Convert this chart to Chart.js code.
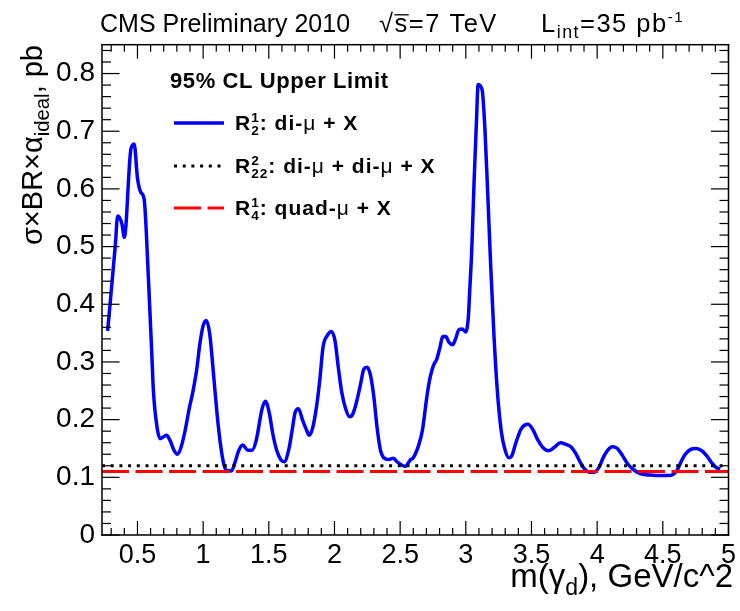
<!DOCTYPE html>
<html>
<head>
<meta charset="utf-8">
<script src="https://cdn.jsdelivr.net/npm/chart.js@4.4.1/dist/chart.umd.min.js"></script>
<style>
  html, body { margin: 0; padding: 0; background: #fff; }
</style>
</head>
<body>
<canvas id="chart" width="740" height="611"></canvas>
<script>
// dark photon mass grid (GeV/c^2) and 95% CL upper limits (pb)
const massValues = [
  0.273, 0.332, 0.349, 0.382, 0.40, 0.45, 0.475, 0.50, 0.526, 0.551,
  0.583, 0.609, 0.621, 0.651, 0.672, 0.722, 0.748, 0.778, 0.803, 0.829,
  0.861, 0.894, 0.919, 0.95, 0.975, 1.0, 1.025, 1.05, 1.081, 1.106,
  1.131, 1.156, 1.177, 1.215, 1.24, 1.272, 1.302, 1.34, 1.373, 1.404,
  1.449, 1.474, 1.505, 1.53, 1.56, 1.593, 1.618, 1.651, 1.676, 1.701,
  1.726, 1.757, 1.787, 1.807, 1.832, 1.863, 1.888, 1.913, 1.946, 1.976,
  2.004, 2.029, 2.055, 2.085, 2.115, 2.14, 2.165, 2.199, 2.224, 2.249,
  2.274, 2.30, 2.324, 2.35, 2.375, 2.413, 2.45, 2.476, 2.514, 2.539,
  2.577, 2.60, 2.64, 2.67, 2.703, 2.729, 2.754, 2.779, 2.804, 2.824,
  2.847, 2.872, 2.90, 2.922, 2.948, 2.973, 2.998, 3.019, 3.031, 3.044,
  3.064, 3.081, 3.094, 3.124, 3.145, 3.165, 3.19, 3.215, 3.24, 3.27,
  3.296, 3.327, 3.347, 3.384, 3.422, 3.473, 3.51, 3.548, 3.594, 3.629,
  3.674, 3.72, 3.762, 3.80, 3.838, 3.876, 3.902, 3.94, 3.978, 4.016,
  4.048, 4.084, 4.116, 4.154, 4.192, 4.23, 4.268, 4.305, 4.356, 4.406,
  4.47, 4.533, 4.578, 4.608, 4.639, 4.671, 4.709, 4.754, 4.797, 4.835,
  4.873, 4.906, 4.937
];
const diMuLimit = [
  0.354, 0.504, 0.553, 0.539, 0.516, 0.669, 0.678, 0.619, 0.594, 0.582,
  0.447, 0.315, 0.251, 0.184, 0.167, 0.173, 0.164, 0.147, 0.140, 0.150,
  0.179, 0.219, 0.245, 0.285, 0.331, 0.363, 0.372, 0.349, 0.274, 0.210,
  0.159, 0.124, 0.112, 0.111, 0.124, 0.147, 0.156, 0.147, 0.147, 0.164,
  0.219, 0.232, 0.210, 0.176, 0.147, 0.130, 0.127, 0.147, 0.179, 0.213,
  0.219, 0.199, 0.182, 0.173, 0.184, 0.222, 0.268, 0.326, 0.346, 0.353,
  0.337, 0.291, 0.248, 0.219, 0.205, 0.210, 0.228, 0.262, 0.288, 0.291,
  0.277, 0.239, 0.187, 0.147, 0.134, 0.131, 0.133, 0.127, 0.121, 0.119,
  0.130, 0.134, 0.155, 0.182, 0.239, 0.274, 0.294, 0.305, 0.326, 0.344,
  0.344, 0.334, 0.330, 0.340, 0.356, 0.357, 0.352, 0.377, 0.429, 0.487,
  0.619, 0.717, 0.781, 0.772, 0.706, 0.602, 0.464, 0.343, 0.250, 0.180,
  0.150, 0.134, 0.136, 0.162, 0.184, 0.192, 0.183, 0.165, 0.150, 0.146,
  0.152, 0.160, 0.157, 0.153, 0.141, 0.124, 0.115, 0.109, 0.109, 0.118,
  0.135, 0.148, 0.153, 0.150, 0.138, 0.124, 0.115, 0.109, 0.105, 0.104,
  0.103, 0.103, 0.105, 0.112, 0.127, 0.140, 0.148, 0.150, 0.146, 0.137,
  0.125, 0.117, 0.114
];
// flat limits for the other two topologies
const flatRange = [0.23, 5];
const diDiMuLimit = [0.12, 0.12];
const quadMuLimit = [0.11, 0.11];

const xTickValues = [0.5, 1, 1.5, 2, 2.5, 3, 3.5, 4, 4.5, 5];
const yTickValues = [0, 0.1, 0.2, 0.3, 0.4, 0.5, 0.6, 0.7, 0.8];

const FONT = "'Liberation Sans', Arial, Helvetica, sans-serif";

const toPoints = (xs, ys) => xs.map((x, i) => ({ x: x, y: ys[i] }));

const styles = {
  diMu: { color: '#0000ff', width: 3.5, dash: [] },
  diDiMu: { color: '#000000', width: 3, dash: [3, 5.7] },
  quadMu: { color: '#ff0000', width: 3, dash: [27, 6.5] }
};

// draw a row of text pieces; {t} plain, {sup, sub} stacked scripts
function richText(ctx, parts, x, y, size, measureOnly) {
  let cx = x;
  parts.forEach((p) => {
    const weight = p.bold ? 'bold ' : '';
    if (p.t !== undefined) {
      ctx.font = weight + size + 'px ' + FONT;
      const w = ctx.measureText(p.t).width;
      if (!measureOnly) {
        ctx.fillText(p.t, cx, y);
        if (p.over) ctx.fillRect(cx, y - size * 0.7, w, 1.3);
      }
      cx += w;
    } else {
      const s = size * (p.scale || 0.65);
      ctx.font = weight + s + 'px ' + FONT;
      let w = 0;
      if (p.sup !== undefined) {
        if (!measureOnly) ctx.fillText(p.sup, cx, y - size * 0.4);
        w = Math.max(w, ctx.measureText(p.sup).width);
      }
      if (p.sub !== undefined) {
        if (!measureOnly) ctx.fillText(p.sub, cx, y + size * 0.25);
        w = Math.max(w, ctx.measureText(p.sub).width);
      }
      cx += w;
    }
  });
  return cx - x;
}

const decorations = {
  id: 'decorations',
  afterDraw(chart) {
    const ctx = chart.ctx;
    const area = chart.chartArea;
    const xs = chart.scales.x;
    const ys = chart.scales.y;
    ctx.save();
    ctx.globalAlpha = 1;
    ctx.setLineDash([]);
    ctx.fillStyle = '#000';
    ctx.strokeStyle = '#000';
    ctx.textAlign = 'left';
    ctx.textBaseline = 'alphabetic';

    // frame
    const L = area.left, R = area.right, T = area.top, B = area.bottom;
    ctx.fillRect(L - 0.75, T - 0.75, R - L + 1.5, 1.5);
    ctx.fillRect(L - 0.75, B - 0.75, R - L + 1.5, 1.5);
    ctx.fillRect(L - 0.75, T - 0.75, 1.5, B - T + 1.5);
    ctx.fillRect(R - 0.75, T - 0.75, 1.5, B - T + 1.5);

    // inward ticks, ROOT style
    for (let i = 3; i <= 50; i++) {
      const px = xs.getPixelForValue(i / 10);
      const len = i % 5 === 0 ? 14 : 7;
      ctx.fillRect(px - 0.6, B - len, 1.2, len);
      ctx.fillRect(px - 0.6, T, 1.2, len);
    }
    for (let i = 0; i <= 42; i++) {
      const py = ys.getPixelForValue(i / 50);
      const len = i % 5 === 0 ? 17.5 : 9;
      ctx.fillRect(L, py - 0.6, len, 1.2);
      ctx.fillRect(R - len, py - 0.6, len, 1.2);
    }

    // title
    richText(ctx, [{ t: 'CMS Preliminary 2010' }], 100, 32, 25);
    ctx.letterSpacing = '1.5px';
    richText(ctx, [
      { t: '\u221A' }, { t: 's', over: true }, { t: '=7 TeV' }
    ], 379, 32, 25.5);
    richText(ctx, [
      { t: 'L' }, { sub: 'int', scale: 0.7 }, { t: '=35 pb' }, { sup: '-1', scale: 0.6 }
    ], 541, 32, 25.5);
    ctx.letterSpacing = '0px';

    // x axis title, right aligned
    const xTitle = [
      { t: 'm(\u03B3' }, { sub: 'd', scale: 0.7 }, { t: '), GeV/c^2' }
    ];
    const xw = richText(ctx, xTitle, 0, 0, 33, true);
    richText(ctx, xTitle, 733 - xw, 587, 33);

    // y axis title, rotated, right aligned at top
    const yTitle = [
      { t: '\u03C3\u00D7BR\u00D7\u03B1' }, { sub: 'ideal', scale: 0.7 }, { t: ', pb' }
    ];
    const yw = richText(ctx, yTitle, 0, 0, 29, true);
    ctx.save();
    ctx.translate(42, 45);
    ctx.rotate(-Math.PI / 2);
    richText(ctx, yTitle, -yw, 0, 29);
    ctx.restore();

    // legend
    ctx.letterSpacing = '0.6px';
    richText(ctx, [{ t: '95% CL Upper Limit', bold: true }], 170, 88, 22);
    ctx.letterSpacing = '1px';
    const rows = [
      { key: 'diMu', y: 123, parts: [
        { t: 'R', bold: true }, { sup: '1', sub: '2', bold: true },
        { t: ': di-', bold: true }, { t: '\u03BC' }, { t: ' + X', bold: true }] },
      { key: 'diDiMu', y: 166, parts: [
        { t: 'R', bold: true }, { sup: '2', sub: '22', bold: true },
        { t: ': di-', bold: true }, { t: '\u03BC' }, { t: ' + di-', bold: true },
        { t: '\u03BC' }, { t: ' + X', bold: true }] },
      { key: 'quadMu', y: 208, parts: [
        { t: 'R', bold: true }, { sup: '1', sub: '4', bold: true },
        { t: ': quad-', bold: true }, { t: '\u03BC' }, { t: ' + X', bold: true }] }
    ];
    rows.forEach((row) => {
      const st = styles[row.key];
      ctx.save();
      ctx.strokeStyle = st.color;
      ctx.lineWidth = st.width;
      ctx.setLineDash(st.dash);
      ctx.beginPath();
      ctx.moveTo(174, row.y);
      ctx.lineTo(224, row.y);
      ctx.stroke();
      ctx.restore();
      richText(ctx, row.parts, 235, row.y + 7, 21);
    });
    ctx.letterSpacing = '0px';
    ctx.restore();
  }
};

new Chart(document.getElementById('chart'), {
  type: 'scatter',
  data: {
    datasets: [
      {
        label: 'R22: di-mu + di-mu + X',
        data: toPoints(flatRange, diDiMuLimit),
        showLine: true,
        borderColor: styles.diDiMu.color,
        borderWidth: styles.diDiMu.width,
        borderDash: styles.diDiMu.dash,
        pointRadius: 0
      },
      {
        label: 'R4: quad-mu + X',
        data: toPoints(flatRange, quadMuLimit),
        showLine: true,
        borderColor: styles.quadMu.color,
        borderWidth: styles.quadMu.width,
        borderDash: styles.quadMu.dash,
        pointRadius: 0
      },
      {
        label: 'R2: di-mu + X',
        data: toPoints(massValues, diMuLimit),
        showLine: true,
        borderColor: styles.diMu.color,
        borderWidth: styles.diMu.width,
        cubicInterpolationMode: 'monotone',
        pointRadius: 0
      }
    ]
  },
  options: {
    responsive: false,
    animation: false,
    layout: { padding: { top: 44.7, right: 8.3, left: 0, bottom: 0 } },
    plugins: {
      legend: { display: false },
      tooltip: { enabled: false }
    },
    scales: {
      x: {
        type: 'linear',
        min: 0.23,
        max: 5,
        grid: { display: false, drawTicks: false },
        border: { display: false },
        afterBuildTicks: (scale) => {
          scale.ticks = xTickValues.map((v) => ({ value: v }));
        },
        afterFit: (scale) => { scale.height = 76; },
        ticks: {
          color: '#000',
          padding: 4,
          maxRotation: 0,
          autoSkip: false,
          callback: (v) => String(v),
          font: { family: FONT, size: 27 }
        }
      },
      y: {
        min: 0,
        max: 0.85,
        grid: { display: false, drawTicks: false },
        border: { display: false },
        afterBuildTicks: (scale) => {
          scale.ticks = yTickValues.map((v) => ({ value: v }));
        },
        afterFit: (scale) => { scale.width = 102; },
        ticks: {
          color: '#000',
          padding: 7,
          autoSkip: false,
          callback: (v) => String(v),
          font: { family: FONT, size: 28 }
        }
      }
    }
  },
  plugins: [decorations]
});
</script>
</body>
</html>
